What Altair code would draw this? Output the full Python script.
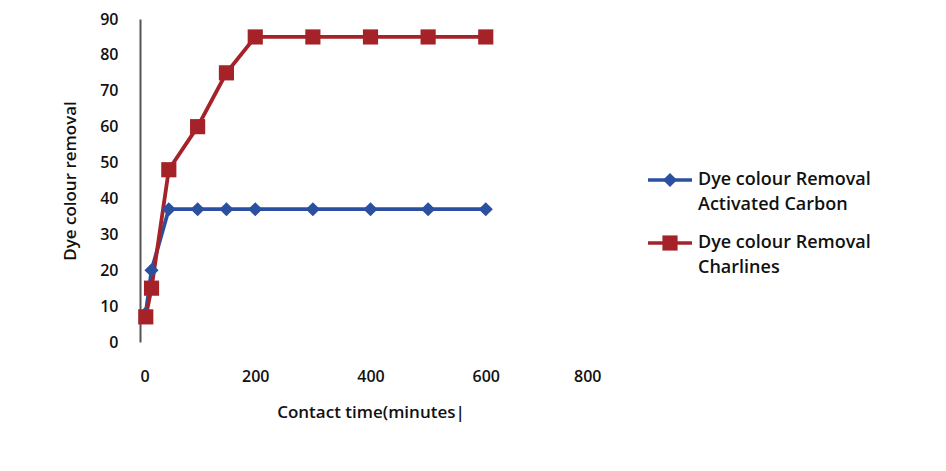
import altair as alt
import pandas as pd

time_min = [10, 20, 50, 100, 150, 200, 300, 400, 500, 600]
activated_carbon = [8, 20, 37, 37, 37, 37, 37, 37, 37, 37]
charlines = [7, 15, 48, 60, 75, 85, 85, 85, 85, 85]

series_names = ["Dye colour Removal Activated Carbon", "Dye colour Removal Charlines"]
series_colors = ["#2B50A0", "#A52229"]
legend_line1 = ["Dye colour Removal", "Dye colour Removal"]
legend_line2 = ["Activated Carbon", "Charlines"]

df = pd.DataFrame({
    "time": time_min * 2,
    "removal": activated_carbon + charlines,
    "series": [series_names[0]] * len(time_min) + [series_names[1]] * len(time_min),
})

FONT = "Open Sans"
W, H = 461, 323

color_scale = alt.Scale(domain=series_names, range=series_colors)
shape_scale = alt.Scale(domain=series_names, range=["diamond", "square"])
y_scale = alt.Scale(domain=[0, 90], nice=False)

x_enc = alt.X("time:Q", scale=alt.Scale(domain=[0, 800], nice=False),
              axis=alt.Axis(values=[0, 200, 400, 600, 800], domain=False, ticks=False,
                            grid=False, labelPadding=26, title="Contact time(minutes|",
                            titlePadding=20))
y_enc = alt.Y("removal:Q", scale=y_scale,
              axis=alt.Axis(values=list(range(0, 91, 10)), ticks=False, grid=False,
                            domainColor="#555555", domainWidth=2, labelPadding=22,
                            title="Dye colour removal", titlePadding=20))

base = alt.Chart(df)
lines = base.mark_line(strokeWidth=3.8).encode(
    x=x_enc, y=y_enc,
    color=alt.Color("series:N", scale=color_scale, legend=None),
)
points = base.mark_point(filled=True, opacity=1).encode(
    x="time:Q", y=alt.Y("removal:Q", scale=y_scale, axis=None),
    color=alt.Color("series:N", scale=color_scale, legend=None),
    shape=alt.Shape("series:N", scale=shape_scale, legend=None),
    size=alt.Size("series:N", scale=alt.Scale(domain=series_names, range=[200, 230]), legend=None),
)

# manual legend (pixel positions of the legend box, not data)
leg = pd.DataFrame({
    "series": series_names,
    "l1": legend_line1,
    "l2": legend_line2,
    "ypix": [161, 224],
})
leg_base = alt.Chart(leg)
leg_y = alt.Y("ypix:Q", scale=None, axis=None)
leg_rule = leg_base.mark_rule(strokeWidth=3.5).encode(
    x=alt.value(508), x2=alt.value(552), y=leg_y,
    color=alt.Color("series:N", scale=color_scale, legend=None),
)
leg_pt = leg_base.mark_point(filled=True, opacity=1).encode(
    x=alt.value(530), y=leg_y,
    color=alt.Color("series:N", scale=color_scale, legend=None),
    shape=alt.Shape("series:N", scale=shape_scale, legend=None),
    size=alt.Size("series:N", scale=alt.Scale(domain=series_names, range=[120, 170]), legend=None),
)
leg_t1 = leg_base.mark_text(align="left", baseline="middle", font=FONT, fontSize=18,
                            fontWeight=600, color="#111111").encode(
    x=alt.value(558), y=leg_y, text="l1:N")
leg_t2 = leg_base.mark_text(align="left", baseline="middle", font=FONT, fontSize=18,
                            fontWeight=600, color="#111111", dy=25).encode(
    x=alt.value(558), y=leg_y, text="l2:N")

chart = alt.layer(lines, points, leg_rule, leg_pt, leg_t1, leg_t2).resolve_scale(
    y="independent"
).properties(
    width=W, height=H,
    autosize=alt.AutoSizeParams(type="none"),
    padding={"left": 132, "top": 11, "right": 337, "bottom": 121},
    background="white",
).configure_view(stroke=None).configure_axis(
    labelFont=FONT, titleFont=FONT, labelFontSize=16, titleFontSize=17,
    labelFontWeight=600, titleFontWeight=600, labelColor="#111111", titleColor="#111111",
)

chart.save("out.html", embed_options={"renderer": "svg", "actions": False})
